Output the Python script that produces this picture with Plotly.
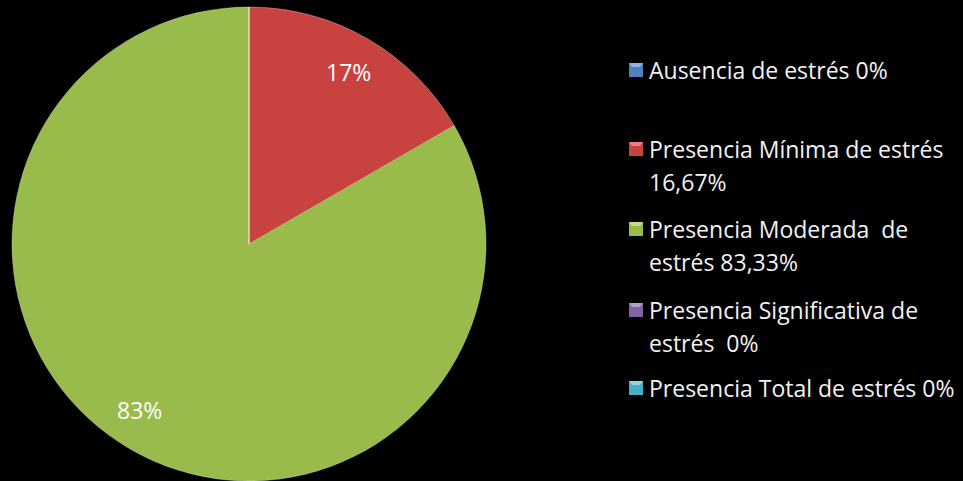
import math
import plotly.graph_objects as go

# Stress levels and their share of respondents (%)
categories = [
    "Ausencia de estrés",
    "Presencia Mínima de estrés",
    "Presencia Moderada de estrés",
    "Presencia Significativa de estrés",
    "Presencia Total de estrés",
]
values = [0, 16.67, 83.33, 0, 0]
colors = ["#4F81BD", "#C8423F", "#98BB4B", "#8064A2", "#4BACC6"]
highlights = ["#8DB3E2", "#E8807D", "#C4DD8A", "#B29DD0", "#92D6E8"]

# Legend text, one list of lines per category
legend_lines = [
    ["Ausencia de estrés 0%"],
    ["Presencia Mínima de estrés", "16,67%"],
    ["Presencia Moderada\u00a0 de", "estrés 83,33%"],
    ["Presencia Significativa de", "estrés\u00a0 0%"],
    ["Presencia Total de estrés 0%"],
]

W, H = 963, 481
cx, cy, R = 249, 244, 237  # pie centre / radius in pixels (y from top)
FONT = "Open Sans"

fig = go.Figure(
    go.Pie(
        labels=categories,
        values=values,
        sort=False,
        direction="clockwise",
        rotation=0,
        marker=dict(colors=colors, line=dict(color="rgba(230,240,200,0.35)", width=1)),
        textinfo="none",
        hoverinfo="label+percent",
        showlegend=False,
        domain=dict(x=[(cx - R) / W, (cx + R) / W], y=[(H - cy - R) / H, (H - cy + R) / H]),
    )
)

annotations = []
shapes = []


def px_to_paper(x, y):
    return x / W, 1 - y / H


# Percentage labels placed near each slice's mid-angle (degrees nudge per slice)
label_nudge = [0, 0, 3.5, 0, 0]
total = sum(values)
start = 0.0
for i, v in enumerate(values):
    frac = v / total
    if v > 0:
        mid = (start + frac / 2) * 2 * math.pi + math.radians(label_nudge[i])
        r = 0.84 * R
        px, py = px_to_paper(cx + r * math.sin(mid), cy - r * math.cos(mid))
        annotations.append(dict(
            x=px, y=py, xref="paper", yref="paper",
            text=f"{round(frac * 100)}%", showarrow=False,
            font=dict(family=FONT, size=23, color="#FFFFFF"),
            xanchor="center", yanchor="middle",
        ))
    start += frac

# Legend: bevelled square marker plus text lines
entry_y = [70, 149, 229, 310, 388]
line_gap = 33
text_x = 647
mx0, mx1 = 629, 643
for i, lines in enumerate(legend_lines):
    y0 = entry_y[i]
    top, bot = y0 - 7, y0 + 7
    ax0, ay0 = px_to_paper(mx0, top)
    ax1, ay1 = px_to_paper(mx1, bot)
    shapes.append(dict(
        type="rect", xref="paper", yref="paper",
        x0=ax0, x1=ax1, y0=ay1, y1=ay0,
        fillcolor=colors[i], line=dict(width=0),
    ))
    # lighter top bevel
    p1 = px_to_paper(mx0, top)
    p2 = px_to_paper(mx1, top)
    p3 = px_to_paper(mx1 - 3, top + 4)
    p4 = px_to_paper(mx0 + 3, top + 4)
    shapes.append(dict(
        type="path", xref="paper", yref="paper",
        path=f"M{p1[0]},{p1[1]} L{p2[0]},{p2[1]} L{p3[0]},{p3[1]} L{p4[0]},{p4[1]} Z",
        fillcolor=highlights[i], line=dict(width=0),
    ))
    for j, line in enumerate(lines):
        tx, ty = px_to_paper(text_x, y0 + j * line_gap)
        annotations.append(dict(
            x=tx, y=ty, xref="paper", yref="paper",
            text=line, showarrow=False,
            font=dict(family=FONT, size=23, color="#F2F2F2"),
            xanchor="left", yanchor="middle",
        ))

fig.update_layout(
    width=W, height=H,
    margin=dict(l=0, r=0, t=0, b=0),
    paper_bgcolor="#000000",
    plot_bgcolor="#000000",
    annotations=annotations,
    shapes=shapes,
)

fig.write_html("out.html")
